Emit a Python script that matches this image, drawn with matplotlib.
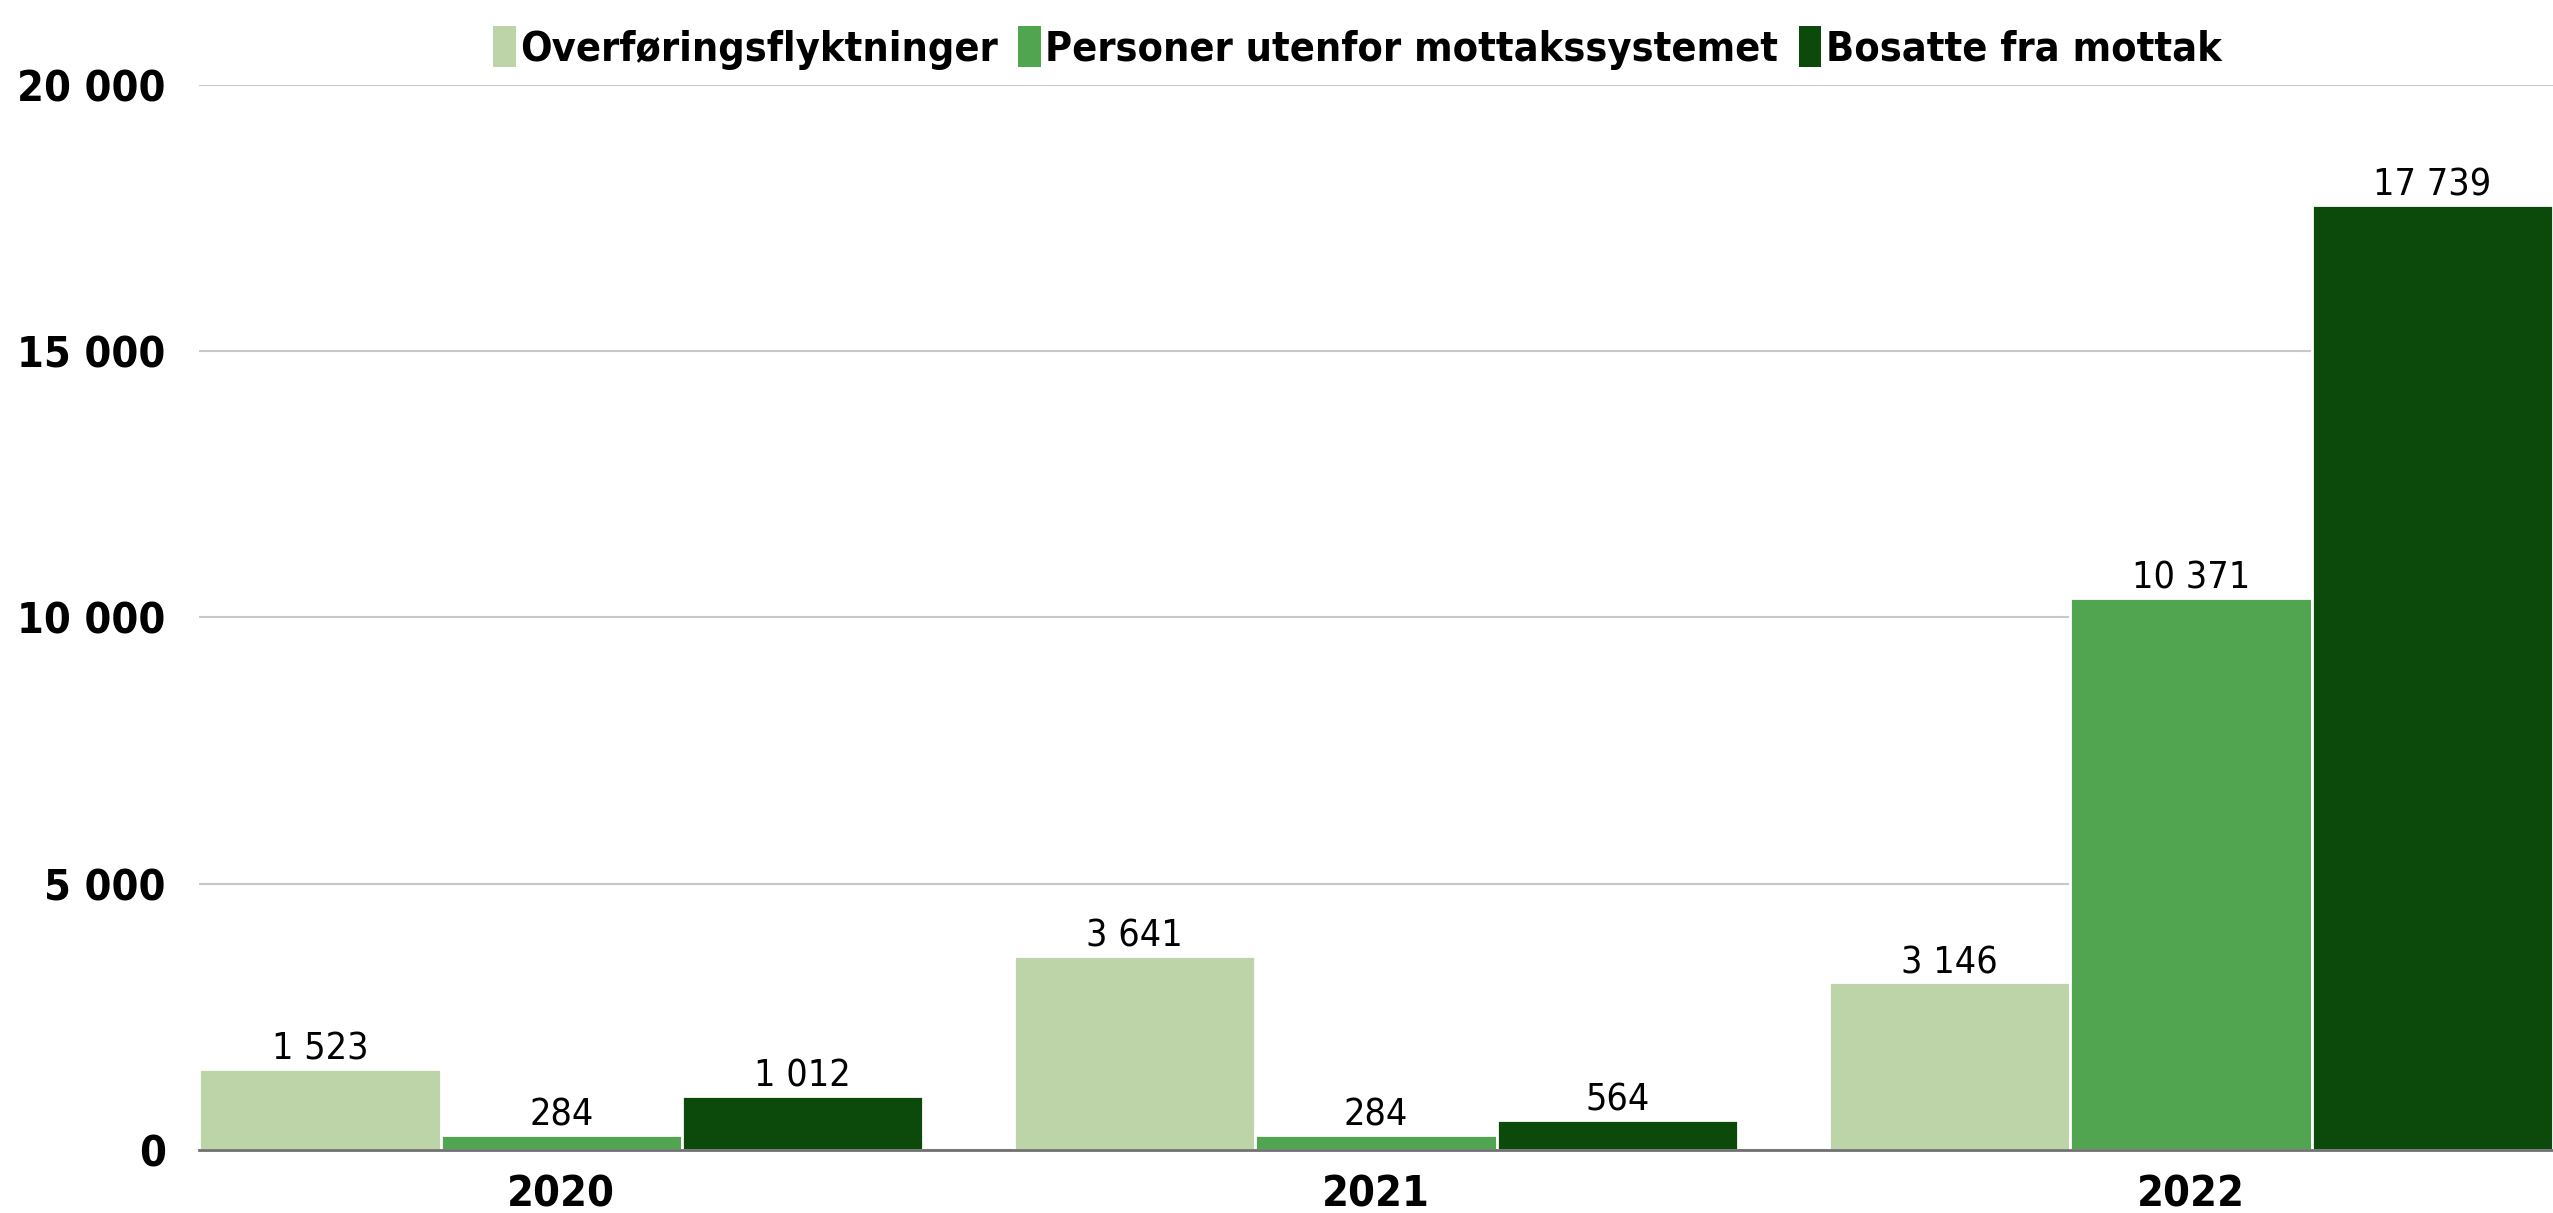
import numpy as np
import matplotlib
matplotlib.use("Agg")
import matplotlib.pyplot as plt
from matplotlib.ticker import FuncFormatter

years = ["2020", "2021", "2022"]
series_names = ["Overføringsflyktninger", "Personer utenfor mottakssystemet", "Bosatte fra mottak"]
overforing = [1523, 3641, 3146]
utenfor = [284, 284, 10371]
bosatte = [1012, 564, 17739]
colors = ["#BDD4A9", "#52A550", "#0C4A0C"]

plt.rcParams['font.family'] = 'DejaVu Sans'
plt.rcParams['font.stretch'] = 'condensed'

fig = plt.figure(figsize=(25.53, 12.13), dpi=100)
ax = fig.add_axes([0.078, 0.052, 0.922, 0.878])

x = np.arange(len(years))
group_w = 0.889
w = group_w / 3
for i, vals in enumerate([overforing, utenfor, bosatte]):
    pos = x - group_w / 2 + w * (i + 0.5)
    bars = ax.bar(pos, vals, width=w, color=colors[i], edgecolor="white",
                  linewidth=2, label=series_names[i], zorder=3)
    ax.bar_label(bars, labels=[f"{v:,}".replace(",", " ") for v in vals],
                 padding=1, fontsize=27, color="black", zorder=4)

ax.set_xlim(-group_w / 2, len(years) - 1 + group_w / 2)
ax.set_ylim(0, 20000)
ax.set_yticks([0, 5000, 10000, 15000, 20000])
ax.yaxis.set_major_formatter(FuncFormatter(lambda v, p: f"{int(v):,}".replace(",", " ")))
ax.set_xticks(x)
ax.set_xticklabels(years)
for lab in ax.get_xticklabels() + ax.get_yticklabels():
    lab.set_fontweight("bold")
    lab.set_fontsize(31)
ax.tick_params(axis="y", length=0, pad=24)
ax.tick_params(axis="x", length=0, pad=17)

ax.grid(axis="y", color="#C8C8C8", linewidth=1.5, zorder=0)
for s in ["top", "right", "left"]:
    ax.spines[s].set_visible(False)
ax.spines["bottom"].set_color("#707070")
ax.spines["bottom"].set_linewidth(2)
ax.spines["bottom"].set_zorder(5)

leg = ax.legend(loc="lower center", bbox_to_anchor=(0.492, 0.995), ncol=3, frameon=False,
                prop={"weight": "bold", "size": 29.7, "stretch": "condensed"},
                handlelength=0.55, handleheight=1.15, handletextpad=0.1,
                columnspacing=0.5, borderaxespad=0.1)
for h in leg.legend_handles:
    h.set_edgecolor("none")

fig.savefig("out.png", dpi=100)
